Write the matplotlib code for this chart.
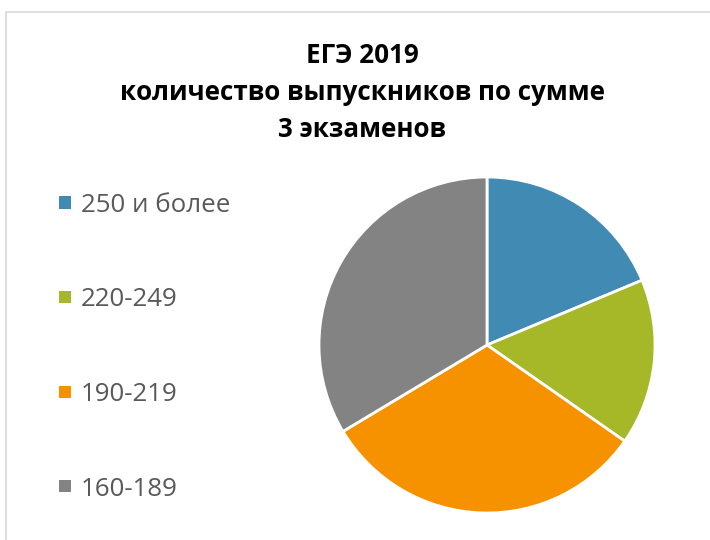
import matplotlib
matplotlib.use("Agg")
import matplotlib.pyplot as plt
from matplotlib.patches import Rectangle

categories = ["250 и более", "220-249", "190-219", "160-189"]
values = [18.7, 16.0, 31.7, 33.6]
colors = ["#418AB3", "#A6B727", "#F69200", "#838383"]
title_lines = ["ЕГЭ 2019", "количество выпускников по сумме", "3 экзаменов"]

W, H = 710, 540
fig = plt.figure(figsize=(W / 100, H / 100), dpi=100)
fig.patch.set_facecolor("white")
plt.rcParams['font.family'] = ['Open Sans', 'DejaVu Sans']

# chart frame (partially cut off)
fig.add_artist(Rectangle((6 / W, -0.05), 1.0, (H - 12) / H + 0.05,
                         transform=fig.transFigure, fill=False,
                         edgecolor="#D9D9D9", linewidth=1.2))

# pie axes
cx, cy, r = 487, H - 345, 168
ax = fig.add_axes([(cx - r) / W, (cy - r) / H, 2 * r / W, 2 * r / H])
ax.pie(values, colors=colors, startangle=90, counterclock=False,
       wedgeprops=dict(edgecolor="white", linewidth=2.0))
ax.set_xlim(-1, 1)
ax.set_ylim(-1, 1)
ax.set_aspect("equal")
ax.axis("off")

# title (baselines)
title_y = [63, 100, 137]
for line, y in zip(title_lines, title_y):
    fig.text(362 / W, 1 - y / H, line, ha="center", va="baseline",
             fontsize=18.7, fontweight="bold", color="black")

# legend
leg_y = [202.5, 297, 391.5, 486]
for lab, col, y in zip(categories, colors, leg_y):
    fig.add_artist(Rectangle((59 / W, 1 - (y + 6) / H), 12 / W, 12 / H,
                             transform=fig.transFigure, facecolor=col,
                             edgecolor="none"))
    fig.text(81 / W, 1 - (y + 9.5) / H, lab, ha="left", va="baseline",
             fontsize=18.6, color="#595959")

fig.savefig("out.png", dpi=100)
